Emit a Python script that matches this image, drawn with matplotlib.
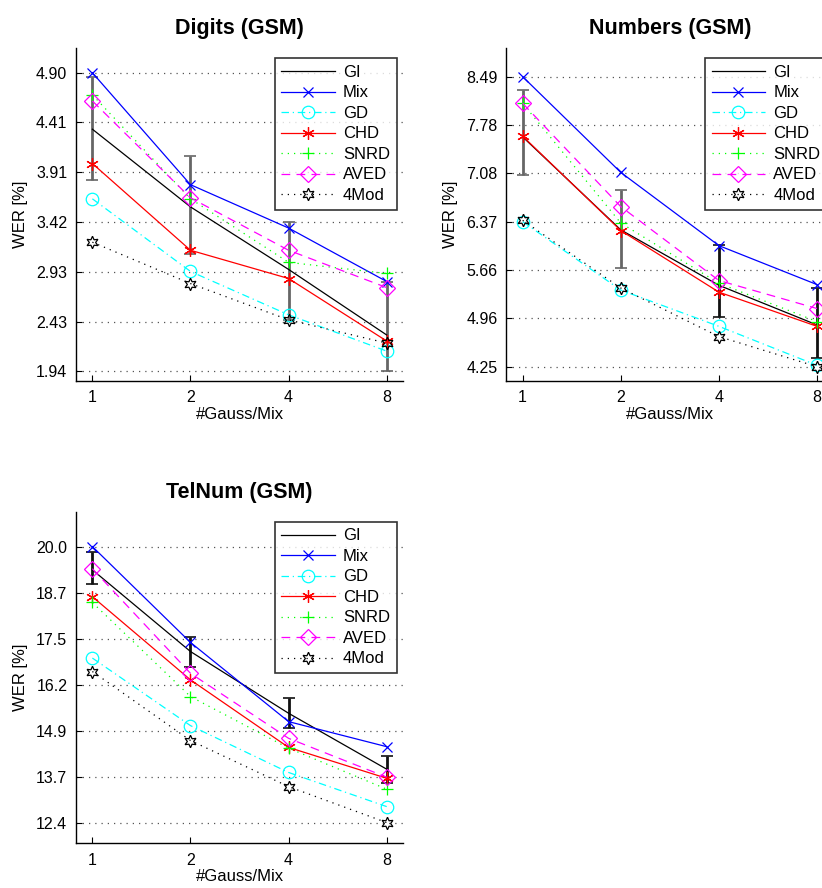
import matplotlib
matplotlib.use("Agg")
import matplotlib.pyplot as plt
import numpy as np

plt.rcParams['font.family'] = ['Liberation Sans', 'DejaVu Sans']

gauss = [1, 2, 4, 8]
series_names = ["GI", "Mix", "GD", "CHD", "SNRD", "AVED", "4Mod"]

# Digits (GSM)
digits_GI = [4.34, 3.57, 2.95, 2.30]
digits_Mix = [4.90, 3.79, 3.36, 2.83]
digits_GD = [3.65, 2.93, 2.50, 2.14]
digits_CHD = [4.00, 3.14, 2.86, 2.24]
digits_SNRD = [4.68, 3.65, 3.02, 2.91]
digits_AVED = [4.62, 3.66, 3.14, 2.77]
digits_4Mod = [3.22, 2.81, 2.45, 2.22]
digits_err_lo = [3.84, 3.10, 2.45, 1.94]
digits_err_hi = [4.86, 4.07, 3.42, 2.83]
digits_err_col = ["#666666", "#666666", "#666666", "#666666"]

# Numbers (GSM)
numbers_GI = [7.61, 6.25, 5.44, 4.86]
numbers_Mix = [8.49, 7.09, 6.02, 5.45]
numbers_GD = [6.37, 5.37, 4.84, 4.27]
numbers_CHD = [7.62, 6.24, 5.34, 4.84]
numbers_SNRD = [8.10, 6.35, 5.47, 4.91]
numbers_AVED = [8.10, 6.59, 5.51, 5.10]
numbers_4Mod = [6.39, 5.40, 4.69, 4.25]
numbers_err_lo = [7.05, 5.70, 4.98, 4.37]
numbers_err_hi = [8.30, 6.83, 6.03, 5.40]
numbers_err_col = ["#666666", "#666666", "#111111", "#111111"]

# TelNum (GSM)
telnum_GI = [19.36, 17.11, 15.41, 13.87]
telnum_Mix = [20.00, 17.36, 15.18, 14.49]
telnum_GD = [16.93, 15.07, 13.78, 12.84]
telnum_CHD = [18.62, 16.33, 14.47, 13.62]
telnum_SNRD = [18.46, 15.87, 14.45, 13.32]
telnum_AVED = [19.39, 16.51, 14.72, 13.65]
telnum_4Mod = [16.56, 14.66, 13.39, 12.40]
telnum_err_lo = [18.96, 16.68, 15.00, 13.48]
telnum_err_hi = [19.85, 17.52, 15.82, 14.24]
telnum_err_col = ["#111111", "#111111", "#111111", "#111111"]

styles = {
    "GI": dict(color="black", ls="-", marker=None),
    "Mix": dict(color="#0000ff", ls="-", marker="x", ms=7),
    "GD": dict(color="#00ffff", ls=(0, (6, 3, 1, 3)), marker="o", ms=9, mfc="none"),
    "CHD": dict(color="#ff0000", ls="-", marker=(6, 2, 0), ms=9),
    "SNRD": dict(color="#00ff00", ls=(0, (1, 4)), marker="+", ms=9),
    "AVED": dict(color="#ff00ff", ls=(0, (7, 5)), marker="D", ms=8, mfc="none"),
    "4Mod": dict(color="black", ls=(0, (1, 4)), marker=(6, 1, 0), ms=9, mfc="none"),
}

W, H = 822, 888
fig = plt.figure(figsize=(W / 100, H / 100), dpi=100)


def make_axes(left_px, top_px, w_px, h_px):
    return fig.add_axes([left_px / W, (H - top_px - h_px) / H, w_px / W, h_px / H])


def draw(ax, title, data, err_lo, err_hi, err_col, ylim, yticks, fmt):
    center = data[0]
    for name, vals in zip(series_names, data):
        st = dict(styles[name])
        color = st.pop("color")
        ls = st.pop("ls")
        marker = st.pop("marker")
        ms = st.pop("ms", 8)
        mfc = st.pop("mfc", color)
        ax.plot(gauss, vals, color=color, linestyle=ls, lw=0.9, marker=marker,
                ms=ms, mfc=mfc, mec=color, mew=0.9, label=name, zorder=3)
    for x, c, lo, hi, col in zip(gauss, center, err_lo, err_hi, err_col):
        ax.errorbar([x], [c], yerr=[[c - lo], [hi - c]], fmt="none",
                    ecolor=col, elinewidth=2.0, capsize=4, capthick=1.2, zorder=2)
    ax.set_xscale("log", base=2)
    ax.set_xlim(2 ** -0.17, 2 ** 3.17)
    ax.set_xticks(gauss)
    ax.set_xticklabels([str(g) for g in gauss])
    ax.minorticks_off()
    ax.set_ylim(*ylim)
    ax.set_yticks(yticks)
    ax.set_yticklabels([fmt.format(t) for t in yticks])
    ax.yaxis.grid(True, color="#555555", linestyle=(0, (1, 4)), lw=0.9)
    ax.set_axisbelow(True)
    for s in ["top", "right"]:
        ax.spines[s].set_visible(False)
    for s in ["left", "bottom"]:
        ax.spines[s].set_linewidth(1.0)
    ax.tick_params(direction="in", labelsize=11.5, length=4)
    ax.tick_params(axis="x", pad=7)
    ax.tick_params(axis="y", pad=6)
    ax.set_xlabel("#Gauss/Mix", fontsize=12, labelpad=1)
    ax.set_ylabel("WER [%]", fontsize=12, labelpad=6)
    ax.set_title(title, fontsize=15.5, fontweight="bold", pad=10)
    leg = ax.legend(loc="upper right", fontsize=12, frameon=True, fancybox=False,
                    numpoints=1, handlelength=3.2, borderpad=0.4, labelspacing=0.33,
                    handletextpad=0.5, borderaxespad=0.4, bbox_to_anchor=(1.0, 0.99))
    leg.get_frame().set_edgecolor("black")
    leg.get_frame().set_linewidth(1.2)


ax1 = make_axes(75.7, 48.3, 327.7, 332.4)
draw(ax1, "Digits (GSM)",
     [digits_GI, digits_Mix, digits_GD, digits_CHD, digits_SNRD, digits_AVED, digits_4Mod],
     digits_err_lo, digits_err_hi, digits_err_col,
     (1.847, 5.142), np.linspace(1.94, 4.90, 7), "{:.2f}")

ax2 = make_axes(506, 48.3, 327.7, 332.4)
draw(ax2, "Numbers (GSM)",
     [numbers_GI, numbers_Mix, numbers_GD, numbers_CHD, numbers_SNRD, numbers_AVED, numbers_4Mod],
     numbers_err_lo, numbers_err_hi, numbers_err_col,
     (4.045, 8.905), np.linspace(4.25, 8.49, 7), "{:.2f}")

ax3 = make_axes(75.7, 511.7, 327.7, 331.6)
draw(ax3, "TelNum (GSM)",
     [telnum_GI, telnum_Mix, telnum_GD, telnum_CHD, telnum_SNRD, telnum_AVED, telnum_4Mod],
     telnum_err_lo, telnum_err_hi, telnum_err_col,
     (11.83, 20.96), np.linspace(12.4, 20.0, 7), "{:.1f}")

fig.savefig("out.png", dpi=100)
